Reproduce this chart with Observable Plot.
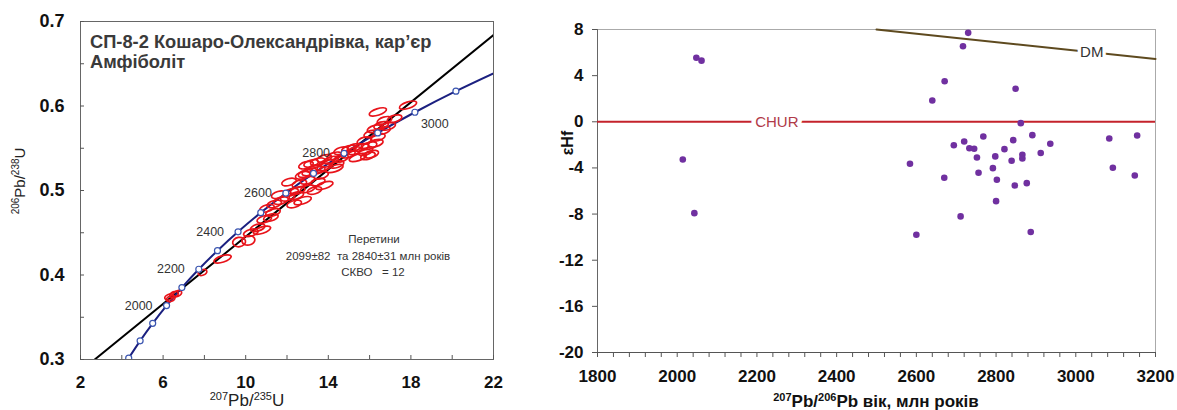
<!DOCTYPE html>
<html><head><meta charset="utf-8">
<script src="https://cdn.jsdelivr.net/npm/d3@7"></script>
<script src="https://cdn.jsdelivr.net/npm/@observablehq/plot@0.6"></script>
<style>
body{margin:0;background:#fff;}
#wrap{position:relative;width:1177px;height:410px;font-family:"Liberation Sans",Arial,sans-serif;background:#fff;}
#left,#right{position:absolute;top:0;}
#left{left:0}
#right{left:540px}
</style></head><body><div id="wrap"><div id="left"></div><div id="right"></div></div>
<script>
// ---------- LEFT PANEL DATA (concordia diagram) ----------
const concordiaAge = [1700,1800,1900,2000,2100,2200,2300,2400,2500,2600,2700,2800,2900,3000,3100,3200];
const concordiaX   = [4.335,4.887,5.496,6.168,6.910,7.729,8.633,9.630,10.730,11.944,13.283,14.762,16.393,18.193,20.180,22.372];
const concordiaY   = [0.3017,0.3221,0.3428,0.3638,0.3851,0.4068,0.4288,0.4511,0.4738,0.4968,0.5202,0.5440,0.5681,0.5926,0.6175,0.6428];
const labelledAges = [2000,2200,2400,2600,2800,3000];
const labelSide    = ["left","left","left","left","left","right"];
const discordiaX = [2.69, 22];
const discordiaY = [0.300, 0.684];
const ellX = [6.29,6.53,6.69,6.37,7.91,8.88,9.68,10.13,10.25,10.58,10.79,10.90,11.22,11.32,11.03,11.38,11.71,12.03,12.35,12.76,12.52,12.45,12.60,13.00,13.33,13.81,12.76,13.00,13.49,13.65,13.08,13.33,12.92,13.17,13.49,13.81,13.81,14.14,14.30,14.30,14.62,14.62,14.95,15.27,15.43,15.92,15.59,15.75,16.00,16.08,16.40,16.24,16.65,16.56,16.72,17.21,16.40,17.86,15.27,16.08,13.49,12.20,12.90,13.90,14.40,15.00,15.80,16.30,12.10,11.60,16.90];
const ellY = [0.374,0.377,0.378,0.372,0.403,0.419,0.439,0.441,0.450,0.456,0.453,0.466,0.468,0.474,0.479,0.484,0.488,0.492,0.484,0.488,0.500,0.494,0.508,0.502,0.500,0.506,0.518,0.512,0.510,0.518,0.522,0.526,0.530,0.532,0.534,0.538,0.528,0.536,0.526,0.541,0.538,0.547,0.543,0.547,0.539,0.541,0.551,0.559,0.553,0.567,0.563,0.573,0.571,0.577,0.583,0.585,0.593,0.601,0.551,0.543,0.524,0.498,0.520,0.532,0.531,0.549,0.546,0.556,0.510,0.495,0.576];
const ellKind = ["s","s","s","s","s","L","R","R","M","M","L","M","M","M","M","M","M","M","M","L","M","M","M","M","M","L","M","M","M","M","M","M","M","M","M","M","M","M","L","M","M","M","M","M","L","M","M","M","M","M","M","M","M","M","M","M","L","L","M","M","M","M","M","M","M","M","M","M","M","M","M"];
const xTicksL = [2,6,10,14,18,22];
const xMinorL = [2,4,6,8,10,12,14,16,18,20,22];
const yTicksL = [0.3,0.4,0.5,0.6,0.7];
const yMinorL = [0.3,0.35,0.4,0.45,0.5,0.55,0.6,0.65,0.7];
const titleLines = ["СП-8-2 Кошаро-Олександрівка, кар’єр","Амфіболіт"];
const noteLines = ["Перетини","2099±82  та 2840±31 млн років","СКВО   = 12"];

// ---------- RIGHT PANEL DATA (εHf vs age) ----------
const hfAge = [2048,2061,2014,2043,2730,2717,2671,2640,2849,2862,2768,2720,2694,2733,2745,2752,2798,2821,2843,2891,2936,2912,2866,2866,2839,2792,2756,2802,2847,2877,2800,2584,2670,3084,3154,3093,3148,2600,2711,2887];
const hfEps = [5.55,5.30,-3.27,-7.92,7.71,6.55,3.52,1.85,2.86,-0.12,-1.27,-1.71,-2.03,-2.29,-2.34,-3.09,-3.00,-2.37,-1.59,-1.16,-1.91,-2.71,-2.86,-3.18,-3.38,-4.02,-4.42,-5.03,-5.52,-5.32,-6.88,-3.64,-4.85,-1.45,-1.19,-3.99,-4.65,-9.79,-8.20,-9.56];
const dmAge = [2500, 3200];
const dmEps = [8.0, 5.45];
const churLabel = {text:"CHUR", age:2250, eps:0};
const dmLabel = {text:"DM", age:3040, eps:6.04};
const xDomainR = [1800, 3200];
const yDomainR = [-20, 8];
const xTicksR = [1800,2000,2200,2400,2600,2800,3000,3200];
const xMinorR = d3.range(0, 36).map(i => 1800 + 40 * i);
const yTicksR = [-20,-16,-12,-8,-4,0,4,8];

// ---------- helpers ----------
function ellipseSymbol(aspect, angleDeg) {
  const t = angleDeg * Math.PI / 180, c = Math.cos(t), s = Math.sin(t), k = 0.5523;
  return {draw(ctx, size) {
    const a = Math.sqrt(size / Math.PI), b = a * aspect;
    const P = ([x, y]) => [x * c - y * s, x * s + y * c];
    const pts = [[a,0],[a,k*b],[k*a,b],[0,b],[-k*a,b],[-a,k*b],[-a,0],[-a,-k*b],[-k*a,-b],[0,-b],[k*a,-b],[a,-k*b],[a,0]].map(P);
    ctx.moveTo(pts[0][0], pts[0][1]);
    for (let i = 1; i < pts.length; i += 3) ctx.bezierCurveTo(pts[i][0], pts[i][1], pts[i+1][0], pts[i+1][1], pts[i+2][0], pts[i+2][1]);
    ctx.closePath();
  }};
}
function supText(sel, parts, big, small) {
  let up = false;
  for (const [txt, sup] of parts) {
    const t = sel.append("tspan").text(txt).attr("font-size", sup ? small : big);
    if (sup && !up) { t.attr("dy", -big * 0.38); up = true; }
    else if (!sup && up) { t.attr("dy", big * 0.38); up = false; }
  }
}

// ---------- tables ----------
const concordia = concordiaAge.map((a, i) => ({age: a, x: concordiaX[i], y: concordiaY[i]}));
const ageLabelData = labelledAges.map((a, i) => {const c = concordia.find(d => d.age === a); return {...c, side: labelSide[i]};});
const discordia = discordiaX.map((x, i) => ({x, y: discordiaY[i]}));
const ells = ellX.map((x, i) => ({x, y: ellY[i], k: ellKind[i]}));
const hf = hfAge.map((a, i) => ({age: a, eps: hfEps[i]}));
const dm = dmAge.map((a, i) => ({age: a, eps: dmEps[i]}));

const font = "Liberation Sans, Arial, sans-serif";
const red = "#e8131a";
const ellStyles = {
  s: {r: 4.5, sym: ellipseSymbol(0.6, -20)},
  L: {r: 9, sym: ellipseSymbol(0.36, -18)},
  M: {r: 7.5, sym: ellipseSymbol(0.45, -16)},
  R: {r: 6.5, sym: ellipseSymbol(0.72, -10)}
};

// ---------- LEFT PLOT ----------
const left = Plot.plot({
  width: 540, height: 410,
  marginLeft: 80, marginRight: 47, marginTop: 21, marginBottom: 51,
  style: {fontFamily: font, background: "white", overflow: "visible"},
  x: {domain: [2, 22], label: null},
  y: {domain: [0.3, 0.7], label: null},
  marks: [
    Plot.frame({stroke: "#666"}),
    Plot.axisX({ticks: xMinorL, tickSize: -4, tickFormat: () => "", stroke: "#555", label: null}),
    Plot.axisY({ticks: yMinorL, tickSize: -4, tickFormat: () => "", stroke: "#555", label: null}),
    Plot.axisX({ticks: xTicksL, tickSize: 0, tickPadding: 16, fontSize: 17, fontWeight: "bold", fill: "#111", tickFormat: d => String(d), label: null}),
    Plot.axisY({ticks: yTicksL, tickSize: 0, tickPadding: 16, fontSize: 18, fontWeight: "bold", fill: "#111", tickFormat: d => String(d), label: null}),
    Plot.line(discordia, {x: "x", y: "y", stroke: "#000", strokeWidth: 2, clip: true}),
    Plot.line(concordia, {x: "x", y: "y", stroke: "#1b2080", strokeWidth: 2, curve: "catmull-rom", clip: true}),
    ...Object.entries(ellStyles).map(([k, st]) =>
      Plot.dot(ells.filter(d => d.k === k), {x: "x", y: "y", r: st.r, symbol: st.sym, fill: "none", stroke: red, strokeWidth: 1.7})),
    Plot.dot(concordia, {x: "x", y: "y", r: 3, fill: "white", stroke: "#3a55b0", strokeWidth: 1.2, clip: true}),
    Plot.text(ageLabelData.filter(d => d.side === "left"), {x: "x", y: "y", text: d => String(d.age), textAnchor: "end", dx: -14, dy: 0, fontSize: 12.5, fill: "#333"}),
    Plot.text(ageLabelData.filter(d => d.side === "right"), {x: "x", y: "y", text: d => String(d.age), textAnchor: "start", dx: 6, dy: 12, fontSize: 12.5, fill: "#333"})
  ]
});
document.getElementById("left").appendChild(left);
{
  const svg = d3.select(left);
  const tt = svg.append("g")
    .attr("font-family", font).attr("font-weight", "bold").attr("font-size", 18.3).attr("fill", "#3a3a3a").attr("text-anchor", "start");
  tt.append("text").attr("x", 90).attr("y", 48).text(titleLines[0]);
  tt.append("text").attr("x", 90).attr("y", 68).text(titleLines[1]);
  const nt = svg.append("g").attr("font-family", font).attr("font-size", 11.5).attr("fill", "#333").attr("text-anchor", "middle").style("white-space", "pre");
  nt.append("text").attr("x", 374).attr("y", 243).text(noteLines[0]);
  nt.append("text").attr("x", 368).attr("y", 260).text(noteLines[1]);
  nt.append("text").attr("x", 373).attr("y", 276).text(noteLines[2]);
  const xl = svg.append("text").attr("x", 247).attr("y", 406).attr("text-anchor", "middle").attr("font-family", font).attr("fill", "#222");
  supText(xl, [["207", true], ["Pb/", false], ["235", true], ["U", false]], 17, 11);
  const yl = svg.append("text").attr("transform", "translate(25,181) rotate(-90)").attr("text-anchor", "middle").attr("font-family", font).attr("fill", "#222");
  supText(yl, [["206", true], ["Pb/", false], ["238", true], ["U", false]], 15, 10);
}

// ---------- RIGHT PLOT ----------
const right = Plot.plot({
  width: 637, height: 410,
  marginLeft: 57, marginRight: 22, marginTop: 29, marginBottom: 58,
  style: {fontFamily: font, background: "white", overflow: "visible"},
  x: {domain: xDomainR, label: null},
  y: {domain: yDomainR, label: null},
  marks: [
    Plot.frame({stroke: "#aaa"}),
    Plot.ruleX([xDomainR[0]], {stroke: "#666"}),
    Plot.ruleY([yDomainR[0]], {stroke: "#555"}),
    Plot.axisX({ticks: xMinorR, tickSize: 5, tickFormat: () => "", stroke: "#555", label: null}),
    Plot.axisX({ticks: xTicksR, tickSize: 0, tickPadding: 17, fontSize: 17, fontWeight: "bold", fill: "#111", tickFormat: d => String(d), label: null}),
    Plot.axisY({ticks: yTicksR, tickSize: 5, tickPadding: 9, fontSize: 17, fontWeight: "bold", fill: "#111", stroke: "#555", tickFormat: d => String(d), label: null}),
    Plot.ruleY([churLabel.eps], {stroke: "#c4222b", strokeWidth: 2}),
    Plot.line(dm, {x: "age", y: "eps", stroke: "#5e4a1f", strokeWidth: 2}),
    Plot.text([churLabel], {x: "age", y: "eps", text: "text", fill: "#b03a48", stroke: "white", strokeWidth: 9, fontSize: 15}),
    Plot.text([dmLabel], {x: "age", y: "eps", text: "text", fill: "#333", stroke: "white", strokeWidth: 7, fontSize: 15}),
    Plot.dot(hf, {x: "age", y: "eps", r: 3.3, fill: "#7030a0", stroke: "none"})
  ]
});
document.getElementById("right").appendChild(right);
{
  const svg = d3.select(right);
  svg.append("text").attr("transform", "translate(33,143) rotate(-90)").attr("text-anchor", "middle")
    .attr("font-family", font).attr("font-weight", "bold").attr("font-size", 16).attr("fill", "#111").text("εHf");
  const xl = svg.append("text").attr("x", 336).attr("y", 407).attr("text-anchor", "middle").attr("font-family", font).attr("font-weight", "bold").attr("fill", "#111");
  supText(xl, [["207", true], ["Pb/", false], ["206", true], ["Pb вік, млн років", false]], 17, 11);
}
</script></body></html>
